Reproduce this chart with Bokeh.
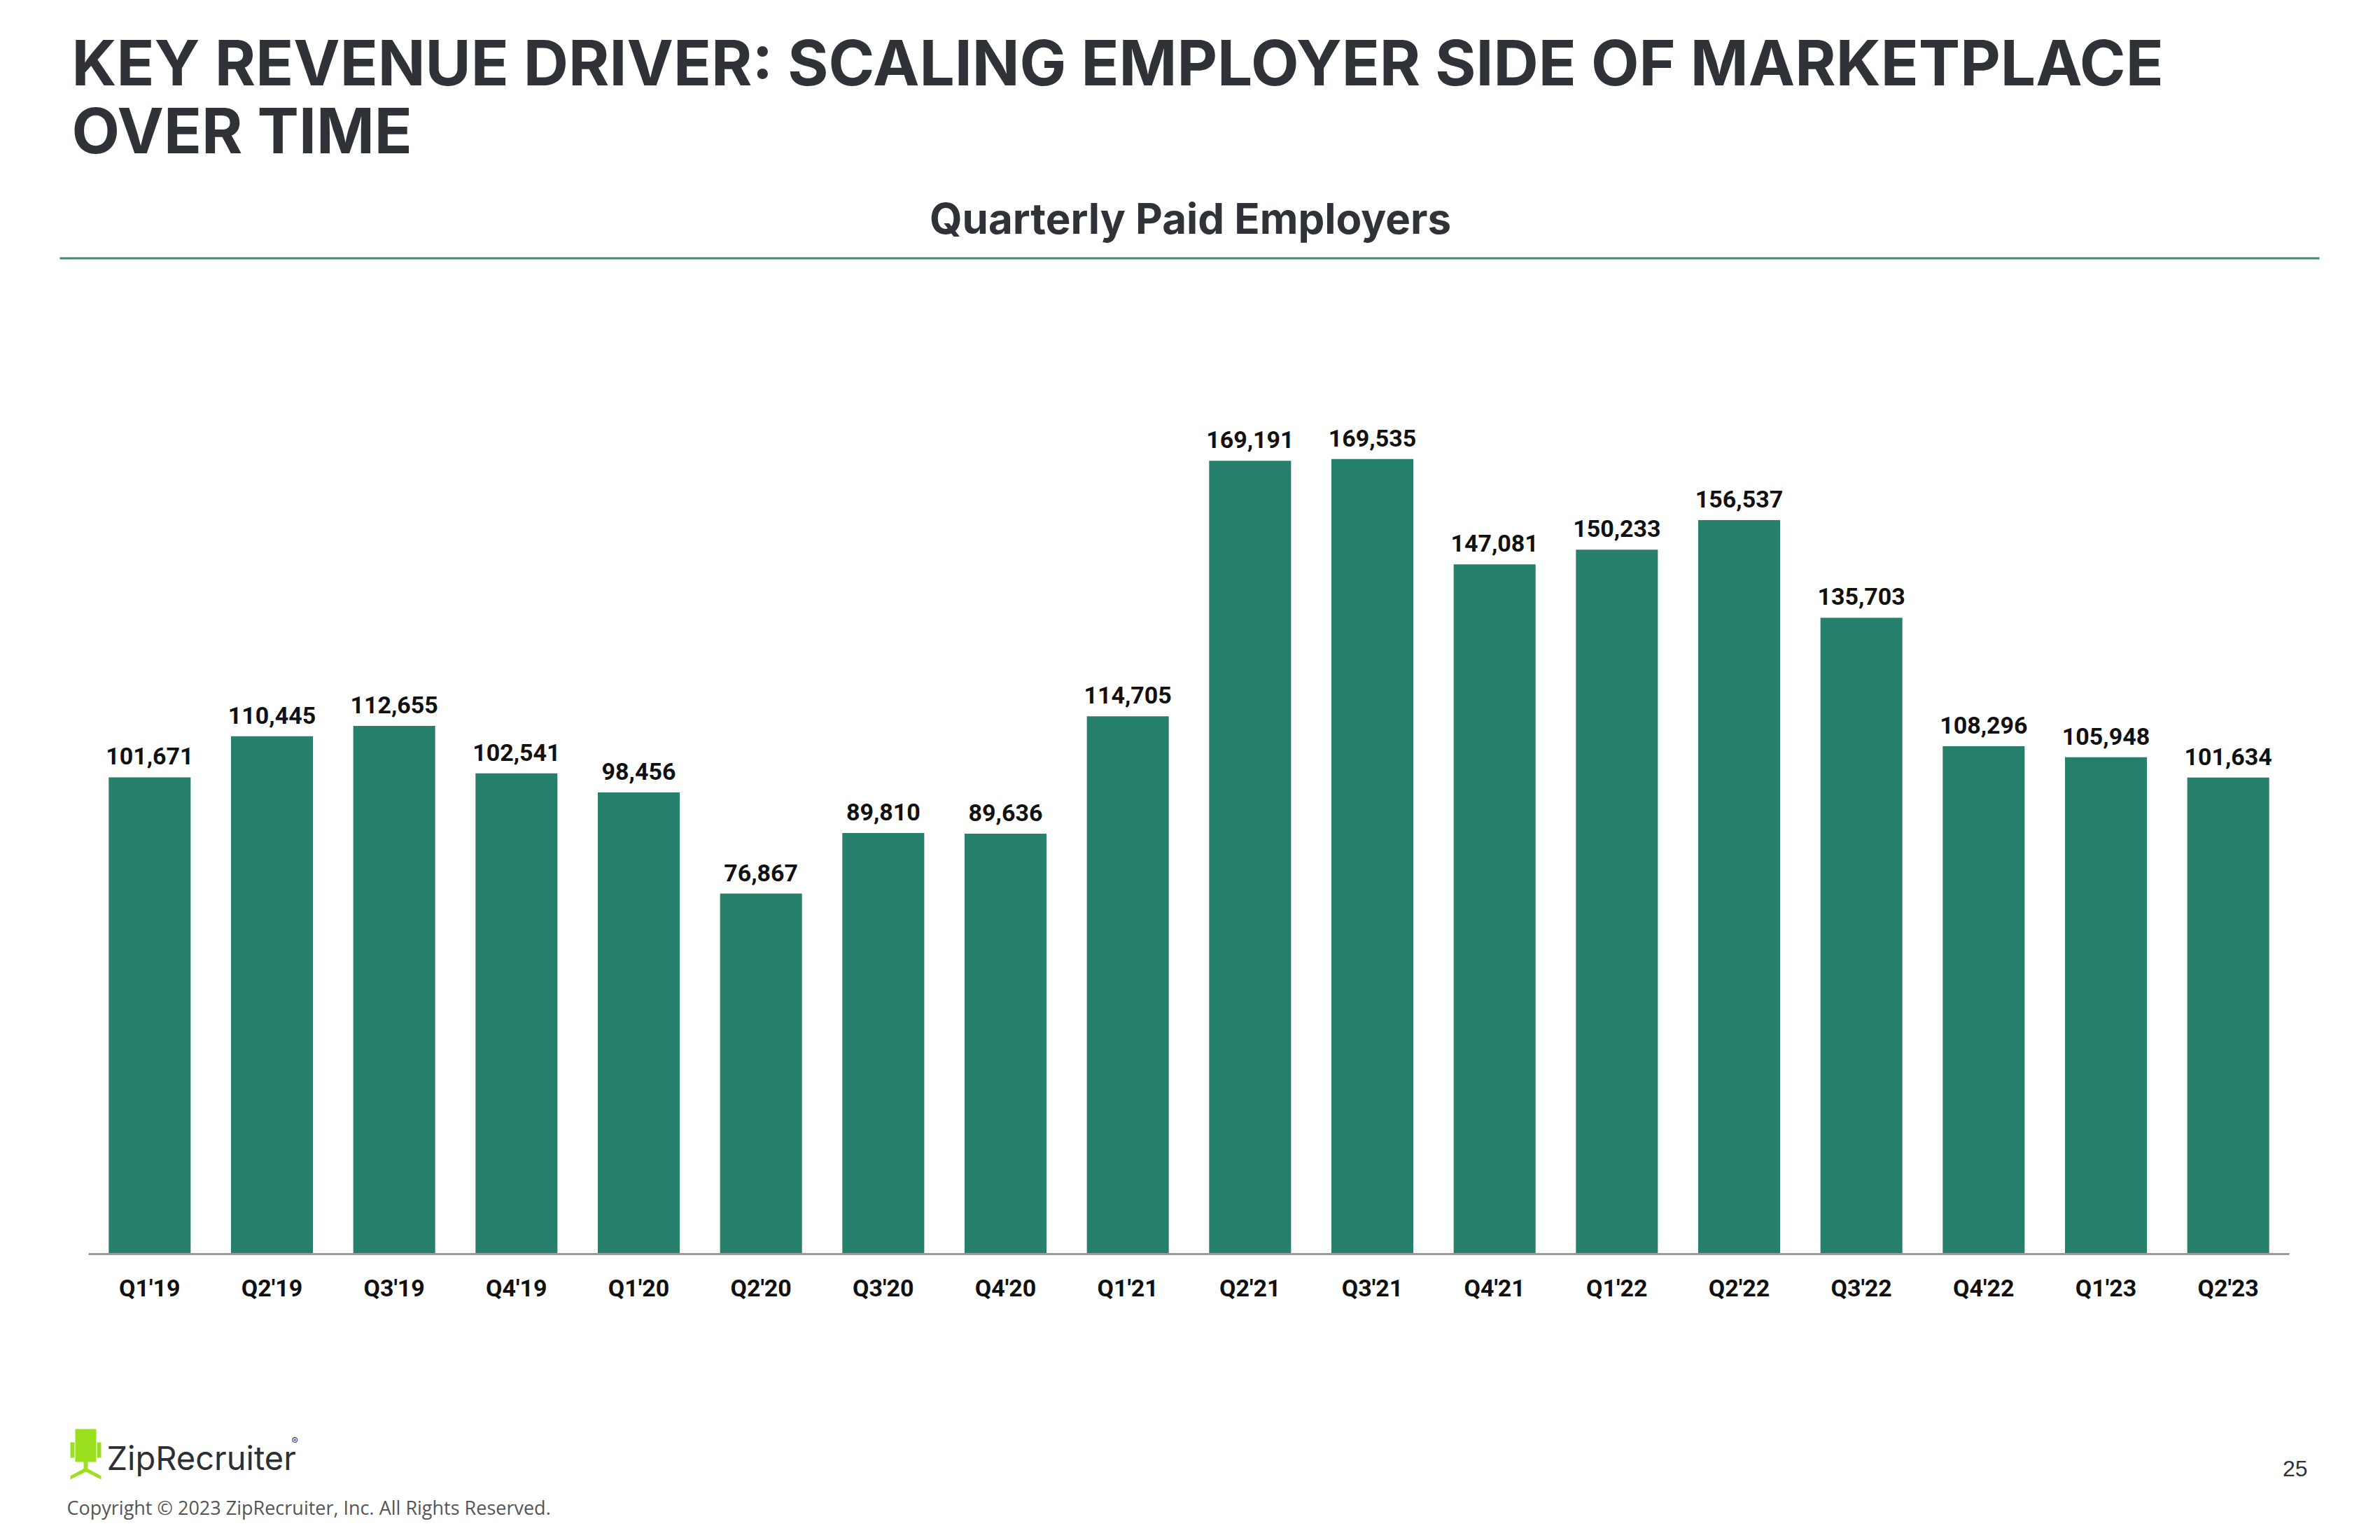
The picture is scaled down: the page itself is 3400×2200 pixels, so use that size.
from bokeh.plotting import figure
from bokeh.models import ColumnDataSource, Range1d, LabelSet
from bokeh.layouts import column
from bokeh.core.properties import value
from bokeh.embed import file_html
from bokeh.resources import INLINE

quarters = ["Q1'19", "Q2'19", "Q3'19", "Q4'19", "Q1'20", "Q2'20", "Q3'20", "Q4'20", "Q1'21",
            "Q2'21", "Q3'21", "Q4'21", "Q1'22", "Q2'22", "Q3'22", "Q4'22", "Q1'23", "Q2'23"]
paid_employers = [101671, 110445, 112655, 102541, 98456, 76867, 89810, 89636, 114705,
                  169191, 169535, 147081, 150233, 156537, 135703, 108296, 105948, 101634]
value_labels = ["{:,}".format(v) for v in paid_employers]

title_lines = ["KEY REVENUE DRIVER: SCALING EMPLOYER SIDE OF MARKETPLACE", "OVER TIME"]
subtitle = "Quarterly Paid Employers"
copyright_text = "Copyright \u00a9 2023 ZipRecruiter, Inc. All Rights Reserved."
page_number = "25"

W = 3384
HEAD_H, CHART_H, FOOT_H = 560, 1340, 284
BAR = "#27806b"
DARK = "#2f3337"
LIME = "#9be01f"


def blank(h, y0):
    f = figure(width=W, height=h, x_range=Range1d(0, W), y_range=Range1d(y0 + h, y0),
               output_backend="svg", toolbar_location=None,
               x_axis_location=None, y_axis_location=None, min_border=0)
    f.xgrid.visible = False
    f.ygrid.visible = False
    f.outline_line_color = None
    f.background_fill_color = "white"
    f.border_fill_color = "white"
    f.frame_align = False
    return f


def txt(f, x, y, s, font, size, style="normal", color=DARK, align="left"):
    f.text(x=[x], y=[y], text=[s], text_font=value(font), text_font_size=value(size),
           text_font_style=style, text_color=color, text_align=align,
           text_baseline="alphabetic")


# ---------- header ----------
head = blank(HEAD_H, 0)
txt(head, 102, 89, title_lines[0], "Inter", "89px", "bold")
txt(head, 102, 186, title_lines[1], "Inter", "89px", "bold")
txt(head, 1700, 311, subtitle, "Inter", "60px", "bold", align="center")
head.quad(left=[85], right=[3313], top=[367], bottom=[370], fill_color="#3d8a74", line_color=None)

# ---------- chart ----------
src = ColumnDataSource(dict(q=quarters, v=paid_employers, lbl=value_labels))
p = figure(x_range=quarters, y_range=Range1d(0, 177800), width=W, height=CHART_H,
           output_backend="svg", toolbar_location=None, y_axis_location=None,
           min_border_left=126, min_border_right=114, min_border_top=40, min_border_bottom=109)
p.frame_align = False
p.x_range.range_padding = 0
p.xgrid.visible = False
p.ygrid.visible = False
p.outline_line_color = None
p.background_fill_color = "white"
p.border_fill_color = "white"

p.vbar(x="q", top="v", width=0.67, source=src, fill_color=BAR, line_color=None)
p.add_layout(LabelSet(x="q", y="v", text="lbl", source=src, y_offset=18,
                      text_align="center", text_baseline="alphabetic",
                      text_font=value("Roboto"), text_font_size=value("34px"),
                      text_font_style="bold", text_color="#111111"))

ax = p.xaxis[0]
ax.axis_line_color = "#9a9a9a"
ax.axis_line_width = 3
ax.major_tick_line_color = None
ax.minor_tick_line_color = None
ax.major_label_standoff = 22
ax.major_label_text_font = "Roboto"
ax.major_label_text_font_size = "34px"
ax.major_label_text_font_style = "bold"
ax.major_label_text_color = "#111111"

# ---------- footer ----------
Y0 = HEAD_H + CHART_H
foot = blank(FOOT_H, Y0)
chair_l = [107, 100, 138, 119]
chair_r = [137, 106, 144, 125]
chair_t = [2041, 2060, 2060, 2086]
chair_b = [2088, 2082, 2082, 2099]
foot.quad(left=chair_l, right=chair_r, top=chair_t, bottom=chair_b, fill_color=LIME, line_color=None)
foot.patch(x=[100, 122, 144, 144, 122, 100], y=[2108, 2096, 2108, 2113, 2102, 2113],
           fill_color=LIME, line_color=None)
txt(foot, 152, 2082, "ZipRecruiter", "Inter", "47px", color="#2c2f33")
txt(foot, 416, 2058, "\u00ae", "Inter", "14px", color="#2c2f33")
txt(foot, 95, 2153, copyright_text, "Open Sans", "27px", color="#555555")
txt(foot, 3296, 2097, page_number, "Liberation Sans", "32px", color="#333333", align="right")

layout = column(head, p, foot, spacing=0)
open("out.html", "w").write(file_html(layout, INLINE))
